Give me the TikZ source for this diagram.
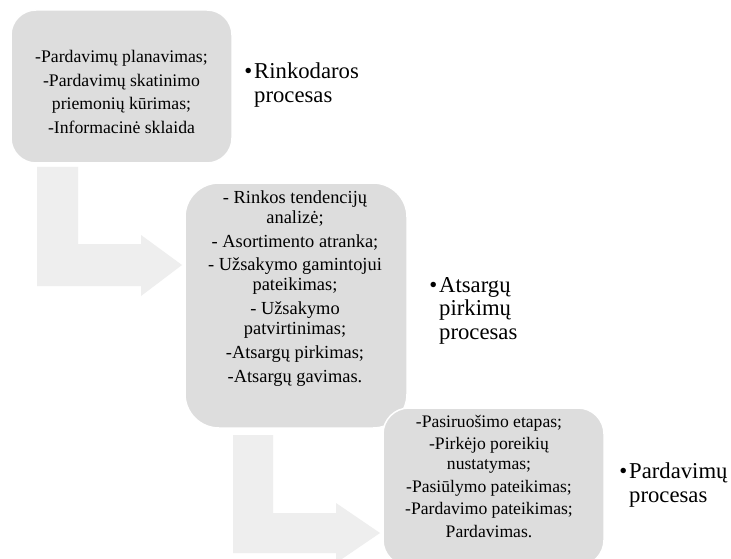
\documentclass[tikz,border=0pt]{standalone}
\usepackage{fontspec}
\setmainfont{Liberation Serif}
\definecolor{boxgray}{RGB}{221,221,221}
\definecolor{arrowgray}{RGB}{238,238,238}
\tikzset{
  stagebox/.style={fill=boxgray, draw=white, line width=1.5pt, inner sep=0pt},
  bentarrow/.style={fill=arrowgray, draw=none},
  boxtext/.style={align=center, inner sep=0pt, anchor=north},
  labeltext/.style={align=left, inner sep=0pt, anchor=north west,
    font=\fontsize{22.7}{23.6}\selectfont},
}
\newcommand{\bul}{\llap{\textbullet\hspace{2pt}}}
\begin{document}
\begin{tikzpicture}[x=1pt,y=-1pt]
\clip (0,0) rectangle (731,559);
\fill[white] (0,0) rectangle (731,559);

% bent arrows leading from one stage to the next
\fill[bentarrow] (37,167) -- (78,167) -- (78,244) -- (141,244) -- (141,235)
  -- (182,265) -- (141,296) -- (141,286) -- (37,286) -- cycle;
\fill[bentarrow] (233,435) -- (273,435) -- (273,513) -- (336,513) -- (336,503)
  -- (380,533) -- (336,563) -- (336,553) -- (233,553) -- cycle;

% stage boxes
\node[stagebox, rounded corners=25pt, minimum width=221pt, minimum height=153pt]
  (b1) at (121.5,86.5) {};
\node[stagebox, rounded corners=34pt, minimum width=222pt, minimum height=245pt]
  (b2) at (296,305.5) {};
\node[stagebox, rounded corners=26pt, minimum width=221pt, minimum height=158pt]
  (b3) at (493.5,487) {};

% stage contents
\node[boxtext, font=\fontsize{17.7}{23.8}\selectfont] (t1) at (121.5,49.9)
  {-Pardavimų planavimas;\\ -Pardavimų skatinimo\\ priemonių kūrimas;\\ -Informacinė sklaida};
\node[boxtext, font=\fontsize{18.4}{20}\selectfont] (t2) at (295,190.4)
  {- Rinkos tendencijų\\ analizė;\\[3.8pt] - Asortimento atranka;\\[3.8pt]
   - Užsakymo gamintojui\\ pateikimas;\\[3.8pt] - Užsakymo\\ patvirtinimas;\\[3.8pt]
   -Atsargų pirkimas;\\[3.8pt] -Atsargų gavimas.};
\node[boxtext, font=\fontsize{17.6}{20}\selectfont] (t3) at (489,415)
  {-Pasiruošimo etapas;\\[2.5pt] -Pirkėjo poreikių\\ nustatymas;\\[2.5pt]
   -Pasiūlymo pateikimas;\\[2.5pt] -Pardavimo pateikimas;\\[2.5pt] Pardavimas.};

% stage names
\node[labeltext] (l1) at (254,62.5) {\bul Rinkodaros\\ procesas};
\node[labeltext] (l2) at (439,277) {\bul Atsargų\\ pirkimų\\ procesas};
\node[labeltext] (l3) at (629,462.5) {\bul Pardavimų\\ procesas};
\end{tikzpicture}
\end{document}
